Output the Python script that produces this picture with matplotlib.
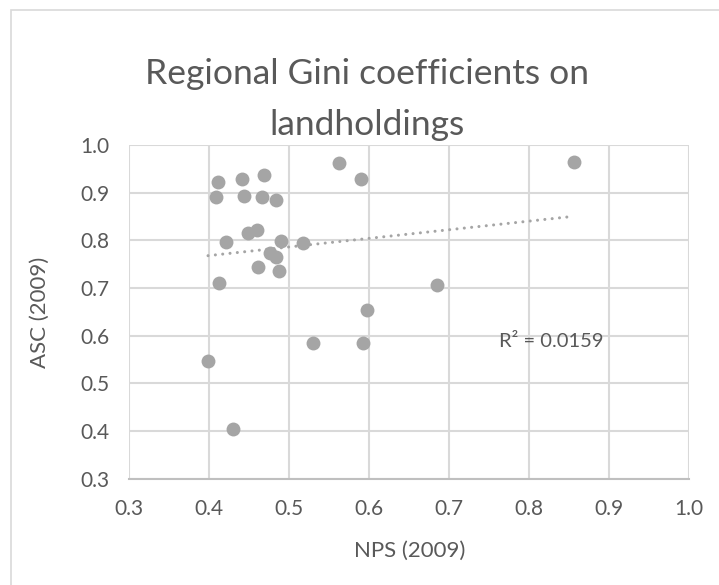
import numpy as np
import matplotlib.pyplot as plt
from matplotlib.patches import Rectangle
# Regional Gini coefficients on landholdings: ASC (2009) against NPS (2009),
# with a linear trend line and its R^2.

# Data
nps = [0.4116, 0.4083, 0.4413, 0.4433, 0.4683, 0.4667, 0.4838, 0.5625, 0.5896,
       0.4208, 0.4483, 0.4604, 0.4896, 0.5179, 0.4763, 0.4838, 0.4617, 0.4875,
       0.4121, 0.5970, 0.5296, 0.5925, 0.3988, 0.4296, 0.8560, 0.6854]
asc = [0.923, 0.891, 0.928, 0.893, 0.938, 0.891, 0.885, 0.962, 0.928,
       0.796, 0.816, 0.822, 0.799, 0.795, 0.774, 0.764, 0.745, 0.736,
       0.710, 0.654, 0.585, 0.584, 0.547, 0.404, 0.964, 0.707]
r2_label = 'R² = 0.0159'
ticks = [0.3, 0.4, 0.5, 0.6, 0.7, 0.8, 0.9, 1.0]

text_col = '#595959'
grid_col = '#d9d9d9'
mark_col = '#a5a5a5'
plt.rcParams['font.family'] = ['Lato', 'DejaVu Sans']

# Plot
fig = plt.figure(figsize=(7.19, 5.85), dpi=100)
ax = fig.add_axes([129/719, 1 - 478.6/585, 560/719, 333.6/585])

# chart frame (runs off the right and bottom edges like the screenshot)
fig.patches.append(Rectangle((11/719, -0.1), 1.2, 1 - 10/585 + 0.1, transform=fig.transFigure,
                             fill=False, ec=grid_col, lw=1.2))

ax.scatter(nps, asc, s=100, color=mark_col, zorder=3, linewidths=0)

# linear trend line
x = np.array(nps)
y = np.array(asc)
b, a = np.polyfit(x, y, 1)
xt = np.array([x.min(), x.max()])
ax.plot(xt, a + b*xt, color=mark_col, lw=2.2, linestyle=(0, (0.01, 2.4)),
        dash_capstyle='round', zorder=2)
ax.text(0.763, 0.588, r2_label, fontsize=14.5, color=text_col, ha='left', va='center')

ax.set_xlim(0.3, 1.0)
ax.set_ylim(0.3, 1.0)
ax.set_xticks(ticks)
ax.set_yticks(ticks)
ax.set_xticklabels([f'{t:.1f}' for t in ticks])
ax.set_yticklabels([f'{t:.1f}' for t in ticks])
ax.grid(True, color=grid_col, lw=1.5)
ax.set_axisbelow(True)
for s in ['top', 'right', 'left']:
    ax.spines[s].set_visible(False)
ax.spines['bottom'].set_color('#bfbfbf')
ax.spines['bottom'].set_linewidth(1.5)
ax.tick_params(length=0, labelsize=15, labelcolor=text_col)
ax.tick_params(axis='x', pad=15)
ax.tick_params(axis='y', pad=14)

fig.text(367/719, 1 - 74/585, 'Regional Gini coefficients on', fontsize=25.5, color=text_col,
         ha='center', va='center')
fig.text(367/719, 1 - 125/585, 'landholdings', fontsize=25.5, color=text_col,
         ha='center', va='center')
fig.text(410/719, 1 - 551/585, 'NPS (2009)', fontsize=16, color=text_col, ha='center', va='center')
fig.text(40/719, 1 - 312/585, 'ASC (2009)', fontsize=16, color=text_col, ha='center', va='center',
         rotation=90)

plt.savefig('out.png', dpi=100)
